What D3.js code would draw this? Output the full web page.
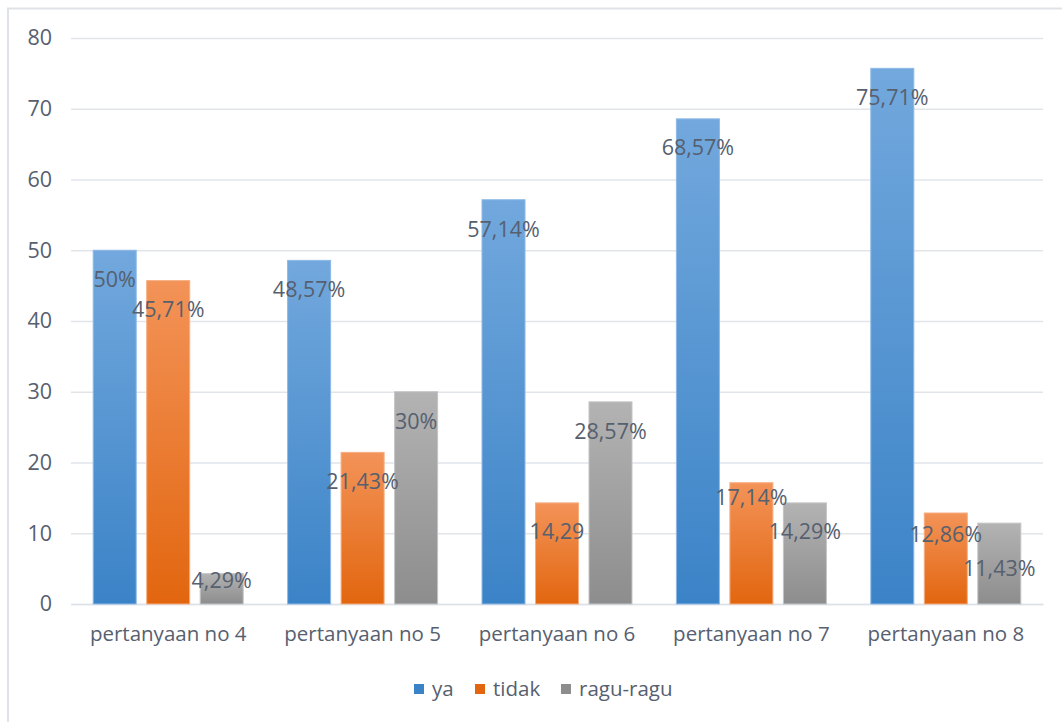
<!DOCTYPE html>
<html>
<head>
<meta charset="utf-8">
<script src="https://cdn.jsdelivr.net/npm/d3@7"></script>
<style>
  html, body { margin: 0; padding: 0; background: #fff; }
  svg { display: block; }
</style>
</head>
<body>
<svg id="chart" width="1062" height="722"></svg>
<script>
// Survey answers per question (percent)
const categories = ["pertanyaan no 4", "pertanyaan no 5", "pertanyaan no 6", "pertanyaan no 7", "pertanyaan no 8"];
const seriesNames = ["ya", "tidak", "ragu-ragu"];
const ya       = [50, 48.57, 57.14, 68.57, 75.71];
const tidak    = [45.71, 21.43, 14.29, 17.14, 12.86];
const raguRagu = [4.29, 30, 28.57, 14.29, 11.43];
const labelsYa       = ["50%", "48,57%", "57,14%", "68,57%", "75,71%"];
const labelsTidak    = ["45,71%", "21,43%", "14,29", "17,14%", "12,86%"];
const labelsRaguRagu = ["4,29%", "30%", "28,57%", "14,29%", "11,43%"];
const yTicks = [0, 10, 20, 30, 40, 50, 60, 70, 80];

// Label placement below each bar top (px), hand-tuned per series
const labelDy = [
  [28, 28, 29, 28, 28],
  [28, 28, 28, 14, 20],
  [6, 29, 29, 28, 44]
];

const seriesValues = [ya, tidak, raguRagu];
const seriesLabels = [labelsYa, labelsTidak, labelsRaguRagu];
const fills = [
  { top: "#72a8dd", bottom: "#3b83c7", stroke: "#8db9e6" },
  { top: "#f39358", bottom: "#e2660f", stroke: "#f6ad80" },
  { top: "#b3b3b3", bottom: "#8d8d8d", stroke: "#c4c4c4" }
];
const textColor = "#56606f";
const font = "'Open Sans', sans-serif";

const svg = d3.select("#chart");

// Chart frame
svg.append("rect")
  .attr("x", 8).attr("y", 8.5)
  .attr("width", 1070).attr("height", 730)
  .attr("fill", "#fff")
  .attr("stroke", "#dfe3e8").attr("stroke-width", 2);

const plot = { left: 71, right: 1043, top: 38, bottom: 604 };

const x0 = d3.scaleBand()
  .domain(categories)
  .range([plot.left, plot.right])
  .paddingInner(0).paddingOuter(0);

const x1 = d3.scaleBand()
  .domain(seriesNames)
  .range([0, x0.bandwidth()])
  .paddingInner(0.196)
  .paddingOuter(0.415);

const y = d3.scaleLinear().domain([0, 80]).range([plot.bottom, plot.top]);

// Gradients
const defs = svg.append("defs");
fills.forEach((f, i) => {
  const g = defs.append("linearGradient")
    .attr("id", "grad" + i)
    .attr("x1", 0).attr("y1", 0).attr("x2", 0).attr("y2", 1);
  g.append("stop").attr("offset", "0%").attr("stop-color", f.top);
  g.append("stop").attr("offset", "100%").attr("stop-color", f.bottom);
});

// Gridlines and y axis
const yAxis = d3.axisLeft(y).tickValues(yTicks).tickSize(-(plot.right - plot.left)).tickPadding(19);
const gy = svg.append("g")
  .attr("transform", `translate(${plot.left},0)`)
  .call(yAxis);
gy.select(".domain").remove();
gy.selectAll(".tick line").attr("stroke", "#e1e5ea").attr("stroke-width", 1.3);
gy.selectAll(".tick text")
  .attr("fill", textColor)
  .style("font-family", font)
  .style("font-size", "21.5px");

// Category axis
const xAxis = d3.axisBottom(x0).tickSize(0).tickPadding(22);
const gx = svg.append("g")
  .attr("transform", `translate(0,${plot.bottom})`)
  .call(xAxis);
gx.select(".domain").attr("stroke", "#dde2e8").attr("stroke-width", 1.5);
gx.selectAll(".tick text")
  .attr("fill", textColor)
  .style("font-family", font)
  .style("font-size", "20.5px");

// Bars
const groups = svg.append("g").selectAll("g")
  .data(categories)
  .join("g")
  .attr("transform", d => `translate(${x0(d)},0)`);

seriesNames.forEach((s, si) => {
  groups.append("rect")
    .attr("x", x1(s))
    .attr("width", x1.bandwidth())
    .attr("y", (d, ci) => y(seriesValues[si][ci]))
    .attr("height", (d, ci) => y(0) - y(seriesValues[si][ci]))
    .attr("fill", `url(#grad${si})`)
    .attr("stroke", fills[si].stroke)
    .attr("stroke-width", 1);
});

// Data labels
seriesNames.forEach((s, si) => {
  groups.append("text")
    .attr("x", x1(s) + x1.bandwidth() / 2)
    .attr("y", (d, ci) => y(seriesValues[si][ci]) + labelDy[si][ci])
    .attr("text-anchor", "middle")
    .attr("dominant-baseline", "central")
    .attr("fill", textColor)
    .style("font-family", font)
    .style("font-size", "21.5px")
    .text((d, ci) => seriesLabels[si][ci]);
});

// Legend
const legendItems = [
  { name: seriesNames[0], x: 414 },
  { name: seriesNames[1], x: 475 },
  { name: seriesNames[2], x: 561 }
];
const legend = svg.append("g");
legendItems.forEach((it, i) => {
  legend.append("rect")
    .attr("x", it.x).attr("y", 684)
    .attr("width", 10).attr("height", 10)
    .attr("fill", fills[i].bottom);
  legend.append("text")
    .attr("x", it.x + 18).attr("y", 688)
    .attr("dominant-baseline", "central")
    .attr("fill", textColor)
    .style("font-family", font)
    .style("font-size", "20.5px")
    .text(it.name);
});
</script>
</body>
</html>
